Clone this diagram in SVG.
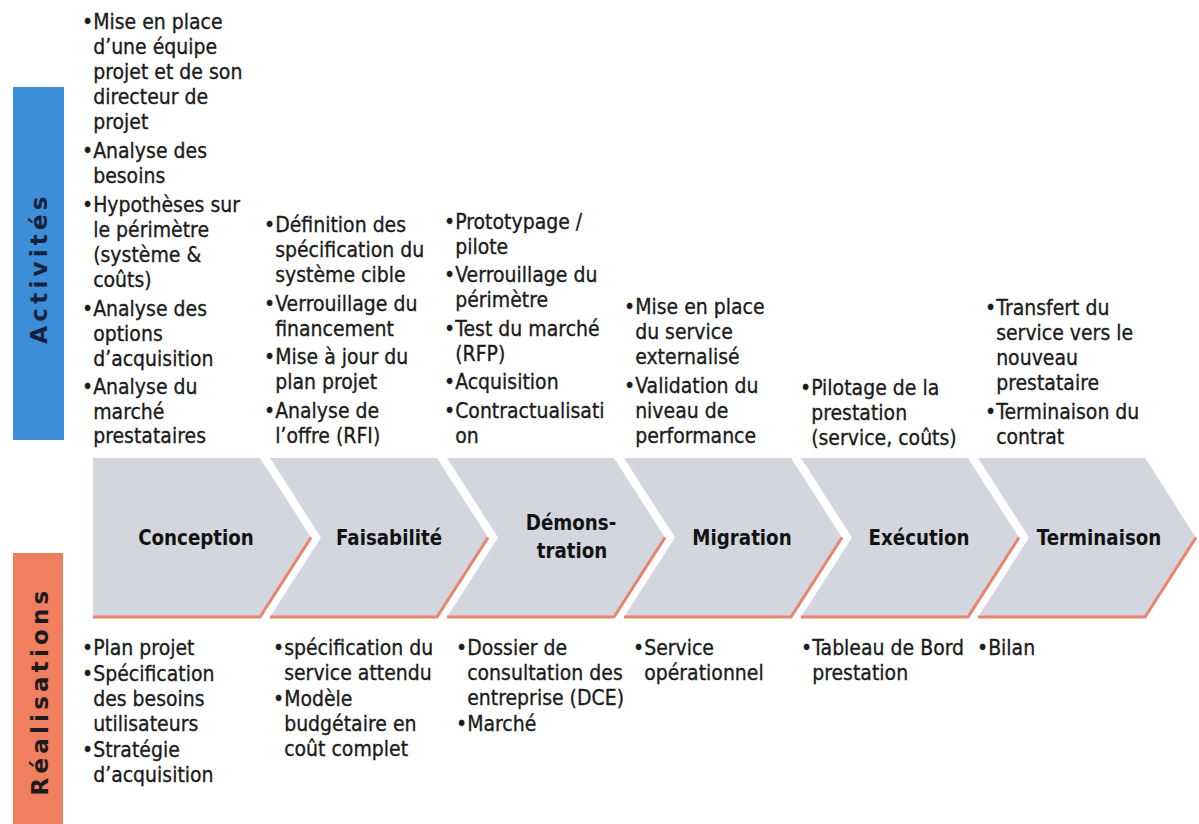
<svg xmlns="http://www.w3.org/2000/svg" width="1199" height="824" viewBox="0 0 1199 824">
<style>
.body{font-family:"DejaVu Sans",Verdana,sans-serif;font-size:21px;fill:#1b1b1b;stroke:#1b1b1b;stroke-width:0.35}
.lbl{font-family:"DejaVu Sans",Verdana,sans-serif;font-size:22px;font-weight:bold;fill:#121212;text-anchor:middle}
.side{font-family:"DejaVu Sans",Verdana,sans-serif;font-size:23px;font-weight:bold;letter-spacing:4.2px;text-anchor:middle}
.chev{fill:#d4d6df}
.edge{fill:none;stroke:#e8846a;stroke-width:3;stroke-linejoin:miter}
</style>
<rect width="1199" height="824" fill="#ffffff"/>

<g id="bar-activites">
<rect x="13" y="87" width="51" height="353" fill="#3d8ed8"/>
<text class="side" fill="#16223c" transform="translate(47,268) rotate(-90)">Activités</text>
</g>
<g id="bar-realisations">
<rect x="13" y="553" width="50" height="271" fill="#ef7f5f"/>
<text class="side" fill="#1e1a1c" transform="translate(47.5,691) rotate(-90)">Réalisations</text>
</g>

<g id="phase-conception">
<polygon class="chev" points="93,458 260,458 311,537.5 260,617 93,617"/>
<polyline class="edge" points="93,617 260,617 311,537.5"/>
<text class="lbl" transform="translate(196,545) scale(0.83,1)">Conception</text>
</g>
<g id="phase-faisabilite">
<polygon class="chev" points="270,458 437,458 488,537.5 437,617 270,617 321,537.5"/>
<polyline class="edge" points="270,617 437,617 488,537.5"/>
<text class="lbl" transform="translate(389,545) scale(0.83,1)">Faisabilité</text>
</g>
<g id="phase-demonstration">
<polygon class="chev" points="447,458 614,458 665,537.5 614,617 447,617 498,537.5"/>
<polyline class="edge" points="447,617 614,617 665,537.5"/>
<text class="lbl" transform="translate(571,530) scale(0.83,1)">Démons-</text>
<text class="lbl" transform="translate(572,558) scale(0.83,1)">tration</text>
</g>
<g id="phase-migration">
<polygon class="chev" points="624,458 791,458 842,537.5 791,617 624,617 675,537.5"/>
<polyline class="edge" points="624,617 791,617 842,537.5"/>
<text class="lbl" transform="translate(742,545) scale(0.83,1)">Migration</text>
</g>
<g id="phase-execution">
<polygon class="chev" points="801,458 968,458 1019,537.5 968,617 801,617 852,537.5"/>
<polyline class="edge" points="801,617 968,617 1019,537.5"/>
<text class="lbl" transform="translate(919,545) scale(0.83,1)">Exécution</text>
</g>
<g id="phase-terminaison">
<polygon class="chev" points="978,458 1145,458 1196,537.5 1145,617 978,617 1029,537.5"/>
<polyline class="edge" points="978,617 1145,617 1196,537.5"/>
<text class="lbl" transform="translate(1099,545) scale(0.83,1)">Terminaison</text>
</g>

<g id="act-conception" transform="translate(82,0) scale(0.9,1)">
<text class="body">
<tspan x="0" y="29">•Mise en place</tspan>
<tspan x="12.4" y="54">d’une équipe</tspan>
<tspan x="12.4" y="79">projet et de son</tspan>
<tspan x="12.4" y="104">directeur de</tspan>
<tspan x="12.4" y="129">projet</tspan>
<tspan x="0" y="158">•Analyse des</tspan>
<tspan x="12.4" y="183">besoins</tspan>
<tspan x="0" y="212">•Hypothèses sur</tspan>
<tspan x="12.4" y="237">le périmètre</tspan>
<tspan x="12.4" y="262">(système &amp;</tspan>
<tspan x="12.4" y="287">coûts)</tspan>
<tspan x="0" y="316">•Analyse des</tspan>
<tspan x="12.4" y="341">options</tspan>
<tspan x="12.4" y="366">d’acquisition</tspan>
<tspan x="0" y="394">•Analyse du</tspan>
<tspan x="12.4" y="419">marché</tspan>
<tspan x="12.4" y="443">prestataires</tspan>
</text>
</g>

<g id="act-faisabilite" transform="translate(264,0) scale(0.9,1)">
<text class="body">
<tspan x="0" y="232.5">•Définition des</tspan>
<tspan x="12.4" y="257.5">spécification du</tspan>
<tspan x="12.4" y="282.5">système cible</tspan>
<tspan x="0" y="311">•Verrouillage du</tspan>
<tspan x="12.4" y="336">financement</tspan>
<tspan x="0" y="364.5">•Mise à jour du</tspan>
<tspan x="12.4" y="389.5">plan projet</tspan>
<tspan x="0" y="418">•Analyse de</tspan>
<tspan x="12.4" y="443">l’offre (RFI)</tspan>
</text>
</g>

<g id="act-demonstration" transform="translate(444,0) scale(0.9,1)">
<text class="body">
<tspan x="0" y="229">•Prototypage /</tspan>
<tspan x="12.4" y="254">pilote</tspan>
<tspan x="0" y="282.5">•Verrouillage du</tspan>
<tspan x="12.4" y="307.5">périmètre</tspan>
<tspan x="0" y="336">•Test du marché</tspan>
<tspan x="12.4" y="361">(RFP)</tspan>
<tspan x="0" y="389.5">•Acquisition</tspan>
<tspan x="0" y="418">•Contractualisati</tspan>
<tspan x="12.4" y="443">on</tspan>
</text>
</g>

<g id="act-migration" transform="translate(624,0) scale(0.9,1)">
<text class="body">
<tspan x="0" y="314.5">•Mise en place</tspan>
<tspan x="12.4" y="339.5">du service</tspan>
<tspan x="12.4" y="364.5">externalisé</tspan>
<tspan x="0" y="393">•Validation du</tspan>
<tspan x="12.4" y="418">niveau de</tspan>
<tspan x="12.4" y="443">performance</tspan>
</text>
</g>

<g id="act-execution" transform="translate(800,0) scale(0.9,1)">
<text class="body">
<tspan x="0" y="395">•Pilotage de la</tspan>
<tspan x="12.4" y="420">prestation</tspan>
<tspan x="12.4" y="445">(service, coûts)</tspan>
</text>
</g>

<g id="act-terminaison" transform="translate(985,0) scale(0.9,1)">
<text class="body">
<tspan x="0" y="315.5">•Transfert du</tspan>
<tspan x="12.4" y="340.5">service vers le</tspan>
<tspan x="12.4" y="365.5">nouveau</tspan>
<tspan x="12.4" y="390.5">prestataire</tspan>
<tspan x="0" y="419">•Terminaison du</tspan>
<tspan x="12.4" y="444">contrat</tspan>
</text>
</g>

<g id="real-conception" transform="translate(82,0) scale(0.9,1)">
<text class="body">
<tspan x="0" y="655">•Plan projet</tspan>
<tspan x="0" y="681">•Spécification</tspan>
<tspan x="12.4" y="706">des besoins</tspan>
<tspan x="12.4" y="731">utilisateurs</tspan>
<tspan x="0" y="757">•Stratégie</tspan>
<tspan x="12.4" y="782">d’acquisition</tspan>
</text>
</g>

<g id="real-faisabilite" transform="translate(273,0) scale(0.9,1)">
<text class="body">
<tspan x="0" y="655">•spécification du</tspan>
<tspan x="12.4" y="680">service attendu</tspan>
<tspan x="0" y="706">•Modèle</tspan>
<tspan x="12.4" y="731">budgétaire en</tspan>
<tspan x="12.4" y="756">coût complet</tspan>
</text>
</g>

<g id="real-demonstration" transform="translate(456,0) scale(0.9,1)">
<text class="body">
<tspan x="0" y="655">•Dossier de</tspan>
<tspan x="12.4" y="680">consultation des</tspan>
<tspan x="12.4" y="705">entreprise (DCE)</tspan>
<tspan x="0" y="731">•Marché</tspan>
</text>
</g>

<g id="real-migration" transform="translate(633,0) scale(0.9,1)">
<text class="body">
<tspan x="0" y="655">•Service</tspan>
<tspan x="12.4" y="680">opérationnel</tspan>
</text>
</g>

<g id="real-execution" transform="translate(801,0) scale(0.9,1)">
<text class="body">
<tspan x="0" y="655">•Tableau de Bord</tspan>
<tspan x="12.4" y="680">prestation</tspan>
</text>
</g>

<g id="real-terminaison" transform="translate(977,0) scale(0.9,1)">
<text class="body">
<tspan x="0" y="655">•Bilan</tspan>
</text>
</g>
</svg>
